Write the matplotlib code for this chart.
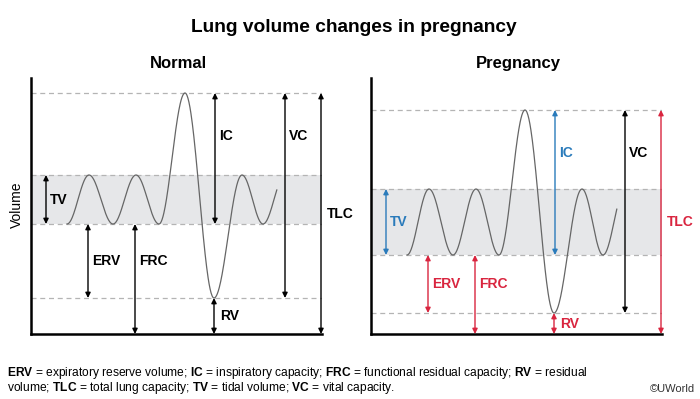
"""
Lung volume changes in pregnancy -- schematic spirogram, normal vs pregnancy.
"""
import numpy as np
import matplotlib

matplotlib.use("Agg")
import matplotlib.pyplot as plt

plt.rcParams["font.family"] = ["Liberation Sans", "DejaVu Sans"]
plt.rcParams["mathtext.fontset"] = "custom"
plt.rcParams["mathtext.rm"] = "Liberation Sans"
plt.rcParams["mathtext.bf"] = "Liberation Sans:bold"

# ── Data (volume units, 0 = empty lung) ──────────────────────────────
LEVEL_NAMES = ["RV", "FRC", "TV", "TLC"]          # top of each compartment
NORMAL_LEVELS = [36, 110, 159, 241]
PREGNANCY_LEVELS = [21, 79, 145, 224]

# Breathing trace: time of each turning point and the level it reaches
BREATH_T = [36, 58, 82, 105, 128, 154, 183, 211, 232, 254]
BREATH_AT = ["FRC", "TV", "FRC", "TV", "FRC", "TLC", "RV", "TV", "FRC", "TV"]
TRACE_END = 246

# Arrows: name, x position, bottom level, top level
ARROW_NAMES = ["TV", "ERV", "FRC", "IC", "RV", "VC", "TLC"]
ARROW_X = [15, 57, 104, 184, 183, 254, 290]
ARROW_FROM = ["FRC", "RV", None, "FRC", None, "RV", None]
ARROW_TO = ["TV", "FRC", "FRC", "TLC", "RV", "TLC", "TLC"]

PANEL_TITLES = ["Normal", "Pregnancy"]

FOOTNOTE = [
    r"$\mathbf{ERV}$ = expiratory reserve volume; $\mathbf{IC}$ = inspiratory capacity; "
    r"$\mathbf{FRC}$ = functional residual capacity; $\mathbf{RV}$ = residual",
    r"volume; $\mathbf{TLC}$ = total lung capacity; $\mathbf{TV}$ = tidal volume; "
    r"$\mathbf{VC}$ = vital capacity.",
]

# ── Style ────────────────────────────────────────────────────────────
BLUE = "#2a7bbb"
RED = "#d9253f"
BAND = "#e6e7e9"
DASH = "#b4b4b4"
PREGNANCY_COLORS = {"TV": BLUE, "IC": BLUE, "ERV": RED, "FRC": RED,
                    "RV": RED, "TLC": RED, "VC": "black"}

W, H = 700, 399
AX_W, AX_H = 291, 256


def breath_trace(times, levels, t_end, n=60):
    xs, ys = [], []
    for i in range(len(times) - 1):
        s = np.linspace(0, 1, n)
        x = times[i] + (times[i + 1] - times[i]) * s
        y = levels[i] + (levels[i + 1] - levels[i]) * (1 - np.cos(np.pi * s)) / 2
        keep = x <= t_end
        xs.append(x[keep])
        ys.append(y[keep])
    return np.concatenate(xs), np.concatenate(ys)


def draw_panel(ax, levels, colors, title):
    lv = dict(zip(LEVEL_NAMES, levels))
    ax.set_xlim(0, AX_W)
    ax.set_ylim(0, AX_H)
    for side in ("top", "right"):
        ax.spines[side].set_visible(False)
    for side in ("left", "bottom"):
        ax.spines[side].set_linewidth(1.8)
    ax.set_xticks([])
    ax.set_yticks([])
    ax.patch.set_alpha(0)

    ax.axhspan(lv["FRC"], lv["TV"], color=BAND, zorder=0, lw=0)
    for name in ("RV", "FRC", "TV", "TLC"):
        ax.axhline(lv[name], color=DASH, lw=0.9, dashes=(4, 3), zorder=1)

    x, y = breath_trace(BREATH_T, [lv[k] for k in BREATH_AT], TRACE_END)
    ax.plot(x, y, color="#666666", lw=0.9, zorder=3)

    for name, ax_x, lo, hi in zip(ARROW_NAMES, ARROW_X, ARROW_FROM, ARROW_TO):
        y0 = lv[lo] if lo else 0
        y1 = lv[hi]
        c = colors.get(name, "black")
        ax.annotate("", xy=(ax_x, y1), xytext=(ax_x, y0),
                    arrowprops=dict(arrowstyle="<|-|>", color=c, lw=1.0,
                                    mutation_scale=7.5, shrinkA=0, shrinkB=0),
                    annotation_clip=False, zorder=4)
        if name in ("IC", "VC"):
            ty = lv["TLC"] - 43
        elif name == "FRC":
            ty = (lv["RV"] + lv["FRC"]) / 2
        else:
            ty = (y0 + y1) / 2
        dx = 6 if name in ("TLC", "RV") else 4
        ax.text(ax_x + dx, ty, name, color=c, fontsize=10, fontweight="bold",
                va="center", ha="left", clip_on=False)

    ax.text(AX_W / 2 + 2, AX_H + 15, title, fontsize=12, fontweight="bold",
            ha="center", va="center", clip_on=False)


def main():
    fig = plt.figure(figsize=(W / 100, H / 100), dpi=100)

    ax_n = fig.add_axes([31 / W, (H - 334) / H, AX_W / W, AX_H / H])
    ax_p = fig.add_axes([371 / W, (H - 334) / H, AX_W / W, AX_H / H])
    draw_panel(ax_n, NORMAL_LEVELS, {}, PANEL_TITLES[0])
    draw_panel(ax_p, PREGNANCY_LEVELS, PREGNANCY_COLORS, PANEL_TITLES[1])

    fig.text(354 / W, 1 - 28 / H, "Lung volume changes in pregnancy",
             fontsize=13.8, fontweight="bold", ha="center", va="center")
    fig.text(17 / W, 1 - 205 / H, "Volume", fontsize=10, rotation=90,
             ha="center", va="center")

    fig.text(7 / W, 1 - 373 / H, FOOTNOTE[0], fontsize=8.65, va="center", ha="left")
    fig.text(7 / W, 1 - 388 / H, FOOTNOTE[1], fontsize=8.65, va="center", ha="left")
    fig.text(695 / W, 1 - 389 / H, "\u00a9UWorld", fontsize=8, va="center",
             ha="right", color="#333333")

    fig.savefig("out.png", dpi=100)


if __name__ == "__main__":
    main()
